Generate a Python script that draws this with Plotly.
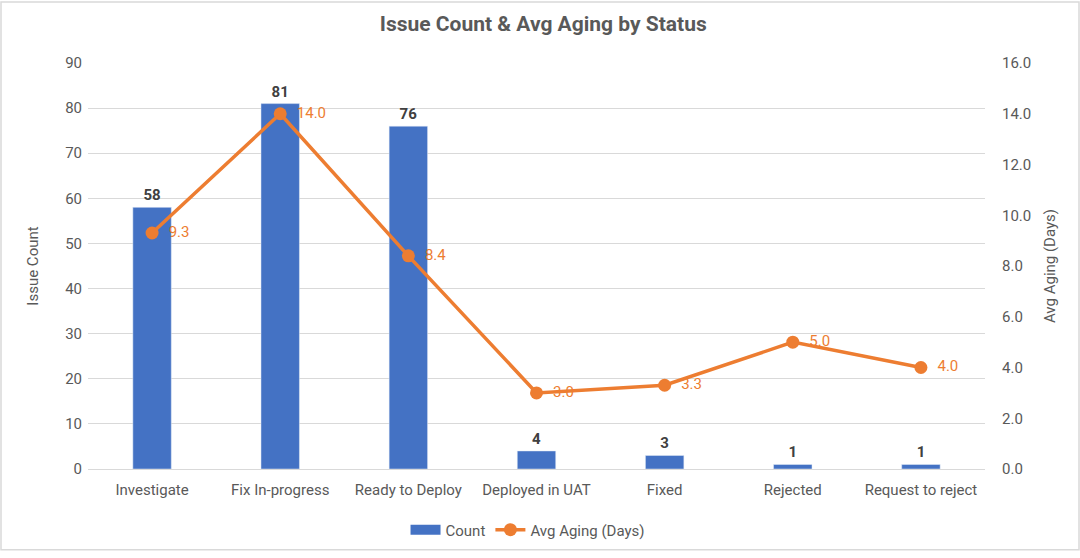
import plotly.graph_objects as go

categories = ["Investigate", "Fix In-progress", "Ready to Deploy", "Deployed in UAT", "Fixed", "Rejected", "Request to reject"]
counts = [58, 81, 76, 4, 3, 1, 1]
avg_aging = [9.3, 14.0, 8.4, 3.0, 3.3, 5.0, 4.0]
left_ticks = [0, 10, 20, 30, 40, 50, 60, 70, 80, 90]
right_ticks = [0, 2, 4, 6, 8, 10, 12, 14, 16]

BLUE = "#4472C4"
ORANGE = "#ED7D31"
GRAY = "#595959"
FONT = "Roboto"

fig = go.Figure()
fig.add_trace(go.Bar(
    x=categories, y=counts, name="Count", marker_color=BLUE, width=0.3,
    text=[str(v) for v in counts], textposition="outside",
    textfont=dict(family=FONT, size=15, color="#404040", weight="bold"),
    cliponaxis=False, showlegend=False,
))
# legend entry for bars drawn as a wide rectangle swatch
fig.add_trace(go.Scatter(
    x=[None], y=[None], name="Count", mode="lines",
    line=dict(color=BLUE, width=10), showlegend=True,
))
fig.add_trace(go.Scatter(
    x=categories, y=avg_aging, name="Avg Aging (Days)", yaxis="y2",
    mode="lines+markers+text", line=dict(color=ORANGE, width=3.5),
    marker=dict(color=ORANGE, size=13),
    text=["\u00a0\u00a0" + f"{v:.1f}" for v in avg_aging], textposition="middle right",
    textfont=dict(family=FONT, size=15, color=ORANGE),
    cliponaxis=False,
))

fig.update_layout(
    width=1080, height=558,
    margin=dict(l=88, r=95, t=63, b=83),
    paper_bgcolor="white", plot_bgcolor="white",
    font=dict(family=FONT, color=GRAY, size=14),
    title=dict(text="<b>Issue Count & Avg Aging by Status</b>", x=0.503, xanchor="center",
               y=0.957, yanchor="middle", font=dict(family=FONT, size=21, color=GRAY)),
    xaxis=dict(showgrid=False, showline=True, linecolor="#D9D9D9", linewidth=1,
               tickfont=dict(size=15, color=GRAY), ticks="", ticklabelstandoff=7),
    yaxis=dict(range=[0, 90], tickvals=left_ticks, showgrid=True, gridcolor="#D9D9D9",
               zeroline=False, ticks="", tickfont=dict(size=15, color=GRAY), ticklabelstandoff=5,
               title=dict(text="Issue Count", font=dict(size=15, color=GRAY), standoff=22)),
    yaxis2=dict(range=[0, 16], tickvals=right_ticks, ticktext=[f"{v:.1f}" for v in right_ticks],
                overlaying="y", side="right", showgrid=False, zeroline=False, ticks="",
                tickfont=dict(size=15, color=GRAY), ticklabelstandoff=16,
                title=dict(text="Avg Aging (Days)", font=dict(size=15, color=GRAY), standoff=14)),
    legend=dict(orientation="h", x=0.49, xanchor="center", y=-0.15, yanchor="middle",
                font=dict(size=15, color=GRAY), traceorder="normal"),
    bargap=0.7,
    shapes=[dict(type="rect", xref="paper", yref="paper", x0=-87/897, x1=1+94/897,
                 y0=-82/412, y1=1+62/412, line=dict(color="#D9D9D9", width=1.5))],
)

fig.write_html("out.html", config={"displayModeBar": False},
               post_script="document.body.style.margin='0';")
